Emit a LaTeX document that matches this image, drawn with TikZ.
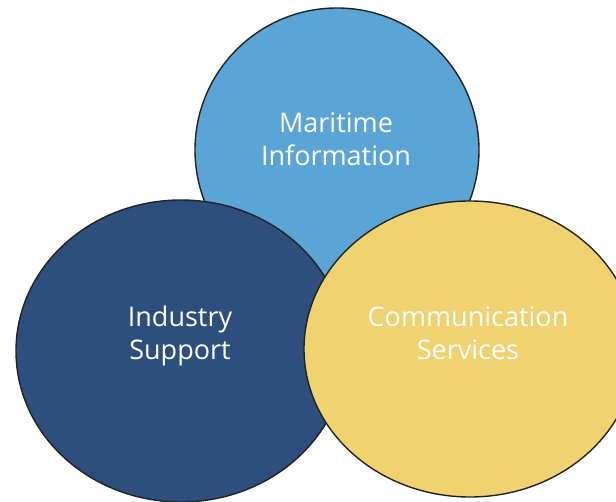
\documentclass[tikz,border=0pt]{standalone}
\usepackage{fontspec}
\setmainfont{Open Sans}
\usetikzlibrary{shapes.geometric}
\definecolor{topblue}{HTML}{5BA5D6}
\definecolor{darkblue}{HTML}{2E4E7E}
\definecolor{sand}{HTML}{F0D270}
\definecolor{rim}{HTML}{222222}
\begin{document}
\begin{tikzpicture}[x=1pt,y=-1pt,
  blob/.style={ellipse, draw=rim, line width=1.4pt, inner sep=0pt},
  lbl/.style={text=white, align=center, font=\fontsize{27}{33}\selectfont}]
\useasboundingbox (0,0) rectangle (616,502);
\begin{scope}
\clip (0,0) rectangle (616,502);
\node[blob, fill=topblue, minimum width=284pt, minimum height=284pt] (mar) at (337,150) {};
\node[blob, fill=darkblue, minimum width=330pt, minimum height=302pt] (ind) at (181,351) {};
\node[blob, fill=sand, minimum width=332pt, minimum height=296pt] (com) at (470,349) {};
\end{scope}
\node[lbl] (tmar) at (336,139) {Maritime\\Information};
\node[lbl] (tind) at (180,336) {Industry\\Support};
\node[lbl] (tcom) at (468,333) {Communication\\Services};
\end{tikzpicture}
\end{document}
